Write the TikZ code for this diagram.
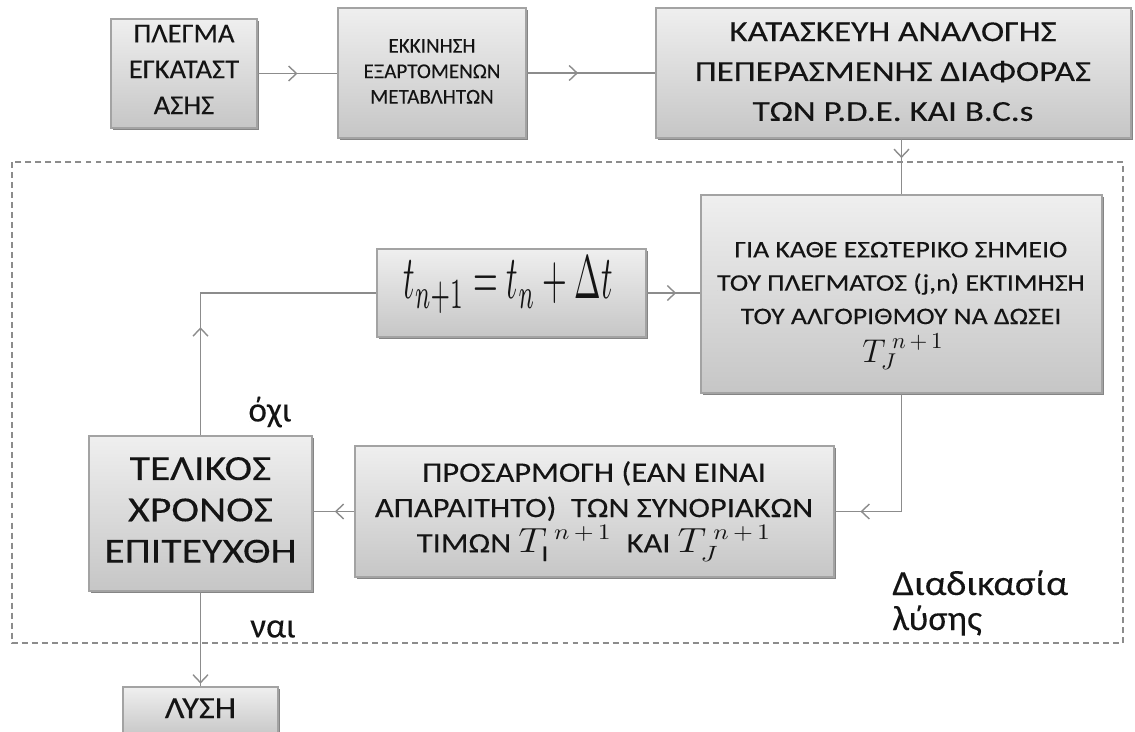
\documentclass[tikz,border=0pt]{standalone}
\usepackage{fontspec}
\setmainfont{Carlito}[FakeBold=0.15]
\usetikzlibrary{arrows.meta,decorations.markings,fit,shadows}
\definecolor{txt}{HTML}{141414}
\definecolor{linegray}{HTML}{8C8C8C}
\definecolor{boxtop}{HTML}{EFEFEF}
\definecolor{boxbot}{HTML}{C6C6C6}
\definecolor{boxline}{HTML}{A3A3A3}
\definecolor{shadowgray}{HTML}{858585}
\newcommand{\hs}[2]{\scalebox{#1}[1]{\begin{tabular}{@{}c@{}}#2\end{tabular}}}
\begin{document}
\begin{tikzpicture}[x=0.02cm,y=-0.02cm,
 box/.style={draw=boxline, line width=0.6pt, top color=boxtop, bottom color=boxbot,
   inner sep=0pt,
   drop shadow={shadow xshift=1.3pt,shadow yshift=-1.3pt,fill=shadowgray,opacity=1}},
 tx/.style={inner sep=0pt, text=txt},
 conn/.style={draw=linegray,line width=1.1pt},
 chev/.style={postaction={decorate,decoration={markings,mark=at position #1 with
   {\arrow[line width=0.8pt,draw=linegray]{Straight Barb[length=4.5pt,width=8.5pt]}}}}},
]
\useasboundingbox (0,0) rectangle (1135,731);

% dashed frame of the solution procedure
\draw[linegray, line width=1.1pt, dash pattern=on 3.4pt off 2.3pt] (12,162) rectangle (1123,643);

% boxes
\node[box, fit={(111,19)(257,128)}] (b1) {};
\node[box, fit={(338,8)(526,138)}] (b2) {};
\node[box, fit={(656,8)(1131,138)}] (b3) {};
\node[box, fit={(701,195)(1102,393)}] (b4) {};
\node[box, fit={(377,249)(646,337)}] (bt) {};
\node[box, fit={(355,446)(834,577)}] (b5) {};
\node[box, fit={(89,436)(312,591)}] (b6) {};
\node[box, fit={(123,687)(278,737)}] (b7) {};

% box texts
\node[tx, font=\fontsize{15.5}{20.4}\selectfont] (b1t) at (184,71) {\hs{1.05}{ΠΛΕΓΜΑ\\ΕΓΚΑΤΑΣΤ\\ΑΣΗΣ}};
\node[tx, font=\fontsize{12}{14.5}\selectfont] (b2t) at (432,73) {\hs{1.0}{ΕΚΚΙΝΗΣΗ\\ΕΞΑΡΤΟΜΕΝΩΝ\\ΜΕΤΑΒΛΗΤΩΝ}};
\node[tx, font=\fontsize{16.5}{22.7}\selectfont] (b3t) at (893,73) {\hs{1.21}{ΚΑΤΑΣΚΕΥΗ ΑΝΑΛΟΓΗΣ\\ΠΕΠΕΡΑΣΜΕΝΗΣ ΔΙΑΦΟΡΑΣ\\ΤΩΝ P.D.E. ΚΑΙ B.C.s}};
\node[tx, font=\fontsize{13.5}{19}\selectfont] (b4t) at (901,284) {\hs{1.17}{ΓΙΑ ΚΑΘΕ ΕΣΩΤΕΡΙΚΟ ΣΗΜΕΙΟ\\ΤΟΥ ΠΛΕΓΜΑΤΟΣ (j,n) ΕΚΤΙΜΗΣΗ\\ΤΟΥ ΑΛΓΟΡΙΘΜΟΥ ΝΑ ΔΩΣΕΙ}};
\node[tx, font=\fontsize{14}{16}\selectfont] (b4m) at (903,352) {\scalebox{1.3}{$T_J^{\;n\,+\,1}$}};
\node[tx] (btt) at (508,285) {\resizebox*{119pt}{32pt}{$t_{n+1}=t_n+\Delta t$}};
\node[tx, font=\fontsize{16}{20.1}\selectfont] (b5t) at (594,510) {\hs{1.155}{ΠΡΟΣΑΡΜΟΓΗ (ΕΑΝ ΕΙΝΑΙ\\ΑΠΑΡΑΙΤΗΤΟ) \ ΤΩΝ ΣΥΝΟΡΙΑΚΩΝ\\ΤΙΜΩΝ \smash{\scalebox{1.15}{$T_{\mathrm{I}}^{\;n\,+\,1}$}} \ ΚΑΙ \smash{\scalebox{1.15}{$T_J^{\;n\,+\,1}$}}}};
\node[tx, font=\fontsize{20}{23.5}\selectfont] (b6t) at (200.5,513) {\hs{1.19}{ΤΕΛΙΚΟΣ\\ΧΡΟΝΟΣ\\ΕΠΙΤΕΥΧΘΗ}};
\node[tx, font=\fontsize{17.5}{20}\selectfont] (b7t) at (200.5,711) {\hs{1.12}{ΛΥΣΗ}};

% connectors
\draw[conn,chev=0.5] (b1.east) -- (b1.east -| b2.west);
\draw[conn,chev=0.4] (b2.east) -- (b2.east -| b3.west);
\draw[conn,chev=0.35] (b4.north |- b3.south) -- (b4.north);
\draw[conn,chev=0.55] (bt.east) -- (bt.east -| b4.west);
\draw[conn,chev=0.86] (b4.south) -- (b4.south |- b5.east) -- (b5.east);
\draw[conn,chev=0.47] (b5.west) -- (b5.west -| b6.east);
\draw[conn,chev=0.34] (b6.north) |- (bt.west);
\draw[conn,chev=0.97] (b6.south) -- (b7.north);

% labels
\node[tx, font=\fontsize{20}{20}\selectfont] (oxi) at (270,412) {όχι};
\node[tx, font=\fontsize{20}{20}\selectfont] (nai) at (273,629) {ναι};
\node[tx, anchor=base west, font=\fontsize{20}{20}\selectfont] (diad) at (892,595) {\scalebox{1.1}[1]{Διαδικασία}};
\node[tx, anchor=base west, font=\fontsize{20}{20}\selectfont] (lys) at (892,630) {\scalebox{1.03}[1]{λύσης}};
\end{tikzpicture}
\end{document}
